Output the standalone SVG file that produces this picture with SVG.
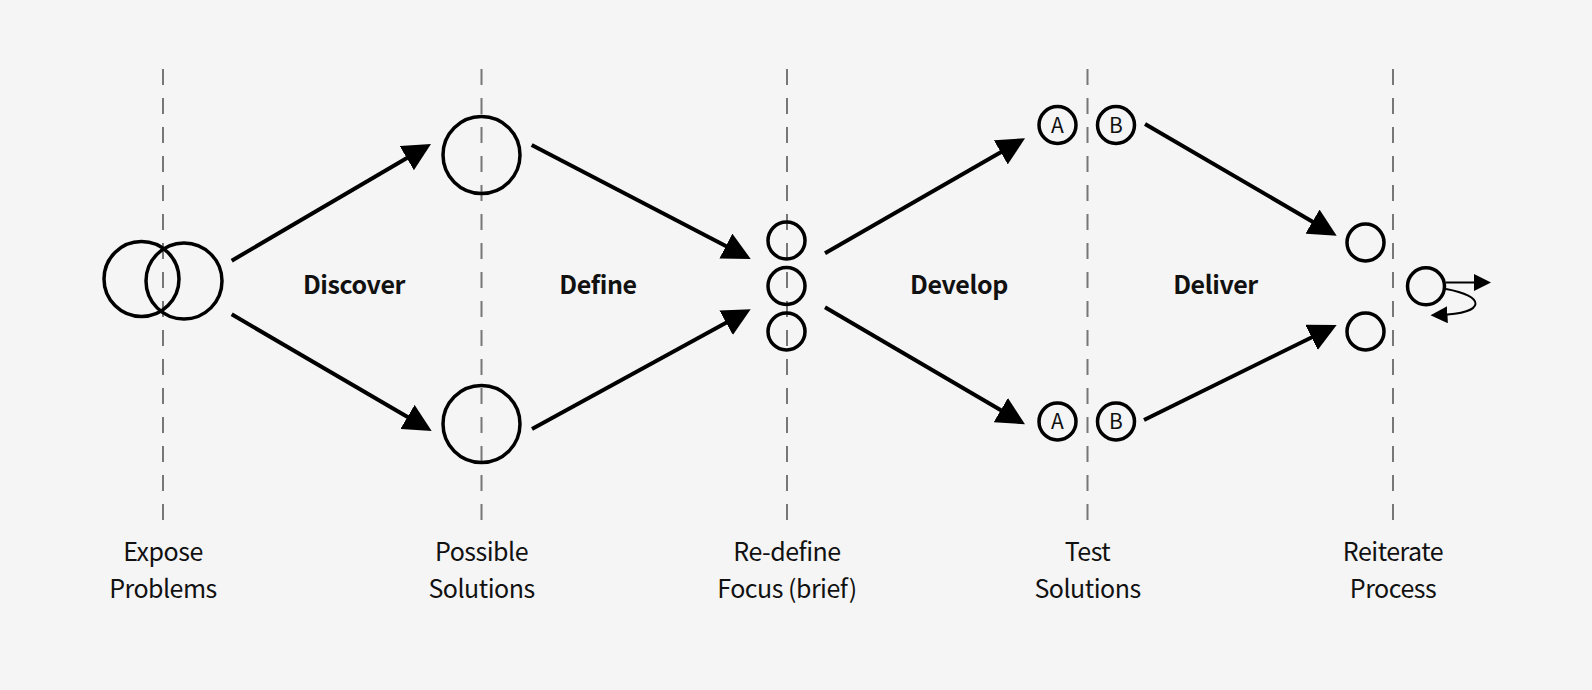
<svg xmlns="http://www.w3.org/2000/svg" width="1592" height="690" viewBox="0 0 1592 690">
<style>
.guide{stroke:#777;stroke-width:2;stroke-dasharray:16 13;fill:none}
.node{fill:none;stroke:#000;stroke-width:3.5}
.conn{stroke:#000;stroke-width:4;fill:none}
.thin{stroke:#000;stroke-width:2;fill:none}
.phase{font-family:"Noto Sans CJK KR","Noto Sans",sans-serif;font-weight:bold;font-size:25px;letter-spacing:-0.4px;text-anchor:middle;fill:#111}
.lbl{font-family:"Noto Sans CJK KR","Noto Sans",sans-serif;font-size:25px;letter-spacing:-0.5px;text-anchor:middle;fill:#111}
.ab{font-family:"Noto Sans CJK KR","Noto Sans",sans-serif;font-size:21px;text-anchor:middle;fill:#111}
</style>
<defs>
<marker id="big" viewBox="0 0 28 28" refX="14" refY="14" markerWidth="28" markerHeight="28" markerUnits="userSpaceOnUse" orient="auto">
<path d="M0,0 L28,14 L0,28 z" fill="#000"/>
</marker>
<marker id="small" viewBox="0 0 17 17" refX="8.5" refY="8.5" markerWidth="17" markerHeight="17" markerUnits="userSpaceOnUse" orient="auto">
<path d="M0,0 L17,8.5 L0,17 z" fill="#000"/>
</marker>
</defs>
<rect width="1592" height="690" fill="#f5f5f5"/>
<g id="guides">
<line class="guide" x1="163" y1="69" x2="163" y2="520"/>
<line class="guide" x1="481.5" y1="69" x2="481.5" y2="520"/>
<line class="guide" x1="787" y1="69" x2="787" y2="520"/>
<line class="guide" x1="1087.5" y1="69" x2="1087.5" y2="520"/>
<line class="guide" x1="1393" y1="69" x2="1393" y2="520"/>
</g>
<g id="expose-problems">
<circle class="node" cx="141.5" cy="279" r="37.5"/>
<circle class="node" cx="184" cy="281" r="38"/>
<text class="lbl" x="163" y="561">Expose</text>
<text class="lbl" x="163" y="598">Problems</text>
</g>
<g id="possible-solutions">
<circle class="node" cx="481.5" cy="155" r="38.5"/>
<circle class="node" cx="481.5" cy="424" r="38.5"/>
<text class="lbl" x="481.5" y="561">Possible</text>
<text class="lbl" x="481.5" y="598">Solutions</text>
</g>
<g id="redefine-focus">
<circle class="node" cx="786.5" cy="240.5" r="18.5"/>
<circle class="node" cx="786.5" cy="286" r="18.5"/>
<circle class="node" cx="786.5" cy="331.5" r="18.5"/>
<text class="lbl" x="787" y="561">Re-define</text>
<text class="lbl" x="787" y="598">Focus (brief)</text>
</g>
<g id="test-solutions">
<circle class="node" cx="1057.5" cy="125" r="18.5"/>
<text class="ab" x="1057.5" y="132.5">A</text>
<circle class="node" cx="1116" cy="125" r="18.5"/>
<text class="ab" x="1116" y="132.5">B</text>
<circle class="node" cx="1057.5" cy="421.5" r="18.5"/>
<text class="ab" x="1057.5" y="429">A</text>
<circle class="node" cx="1116" cy="421.5" r="18.5"/>
<text class="ab" x="1116" y="429">B</text>
<text class="lbl" x="1087.5" y="561">Test</text>
<text class="lbl" x="1087.5" y="598">Solutions</text>
</g>
<g id="deliver-results">
<circle class="node" cx="1365.5" cy="242.5" r="18.5"/>
<circle class="node" cx="1365.5" cy="331.5" r="18.5"/>
</g>
<g id="reiterate-process">
<circle class="node" cx="1426" cy="286.3" r="18.5"/>
<path class="thin" d="M1446,282.5 L1482.5,282.5" marker-end="url(#small)"/>
<path class="thin" d="M1446,289 C1485,296 1488,313 1439,315" marker-end="url(#small)"/>
<text class="lbl" x="1393" y="561">Reiterate</text>
<text class="lbl" x="1393" y="598">Process</text>
</g>
<g id="phases">
<text class="phase" x="354" y="294">Discover</text>
<text class="phase" x="598" y="294">Define</text>
<text class="phase" x="959" y="294">Develop</text>
<text class="phase" x="1215.5" y="294">Deliver</text>
</g>
<g id="connectors">
<line class="conn" x1="231.7" y1="260.7" x2="418.9" y2="151.1" marker-end="url(#big)"/>
<line class="conn" x1="231.7" y1="314.3" x2="419.6" y2="424" marker-end="url(#big)"/>
<line class="conn" x1="531.7" y1="145" x2="738.3" y2="252.5" marker-end="url(#big)"/>
<line class="conn" x1="532" y1="429" x2="738.4" y2="316" marker-end="url(#big)"/>
<line class="conn" x1="825" y1="253.3" x2="1012.9" y2="145.3" marker-end="url(#big)"/>
<line class="conn" x1="825" y1="307.3" x2="1012.9" y2="417.2" marker-end="url(#big)"/>
<line class="conn" x1="1145" y1="124" x2="1324.6" y2="228.7" marker-end="url(#big)"/>
<line class="conn" x1="1144" y1="420" x2="1324.1" y2="331.2" marker-end="url(#big)"/>
</g>
</svg>
